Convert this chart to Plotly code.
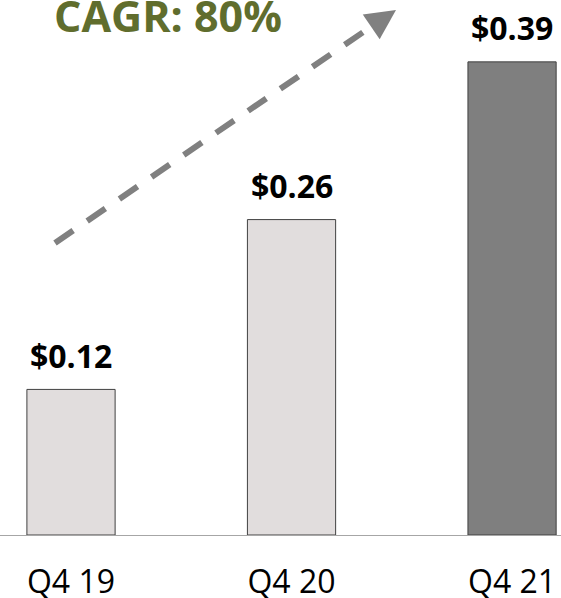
import plotly.graph_objects as go

# data
quarters = ["Q4 19", "Q4 20", "Q4 21"]
eps = [0.12, 0.26, 0.39]
bar_colors = ["#E1DDDD", "#E1DDDD", "#7F7F7F"]
cagr_label = "CAGR: 80%"

FONT = "Open Sans, Lato, sans-serif"
OLIVE = "#606D2D"
ARROW_GREY = "#808080"

fig = go.Figure(go.Bar(
    x=quarters, y=eps,
    width=0.4,
    marker=dict(color=bar_colors, line=dict(color="#404040", width=1)),
    hoverinfo="skip",
))

# value labels above each bar
for q, v in zip(quarters, eps):
    fig.add_annotation(
        x=q, y=v, text=f"<b>${v:.2f}</b>", showarrow=False,
        yanchor="middle", yshift=34,
        font=dict(family=FONT, size=32, color="#000000"),
    )

# dashed growth arrow (shaft + head)
fig.add_shape(
    type="line", xref="paper", yref="paper",
    x0=55 / 561, y0=(535 - 243) / 535,
    x1=378 / 561, y1=(535 - 22) / 535,
    line=dict(color=ARROW_GREY, width=6, dash="22px,17px"),
)
fig.add_annotation(
    xref="paper", yref="paper",
    x=396 / 561, y=(535 - 10) / 535,
    ax=-22, ay=15, axref="pixel", ayref="pixel",
    text="", showarrow=True,
    arrowhead=2, arrowsize=1, arrowwidth=6, arrowcolor=ARROW_GREY,
)

# CAGR headline (top is clipped by the frame, as in the source)
fig.add_annotation(
    xref="paper", yref="paper", x=168 / 561, y=1.0,
    text=f"<b>{cagr_label}</b>", showarrow=False,
    xanchor="center", yanchor="middle", yshift=-15,
    font=dict(family=FONT, size=43, color=OLIVE),
)

fig.update_xaxes(
    range=[-0.322, 2.222],
    showline=True, linecolor="#A6A6A6", linewidth=1,
    ticks="outside", ticklen=19, tickcolor="rgba(0,0,0,0)",
    tickfont=dict(family=FONT, size=32, color="#000000"),
    showgrid=False, zeroline=False, automargin=False,
)
fig.update_yaxes(range=[0, 0.441], visible=False, automargin=False)

fig.update_layout(
    width=561, height=598,
    margin=dict(l=0, r=0, t=0, b=63),
    plot_bgcolor="#FFFFFF", paper_bgcolor="#FFFFFF",
    showlegend=False,
    font=dict(family=FONT),
)

fig.write_html("out.html", config={"displayModeBar": False},
               post_script="document.body.style.margin='0';")
